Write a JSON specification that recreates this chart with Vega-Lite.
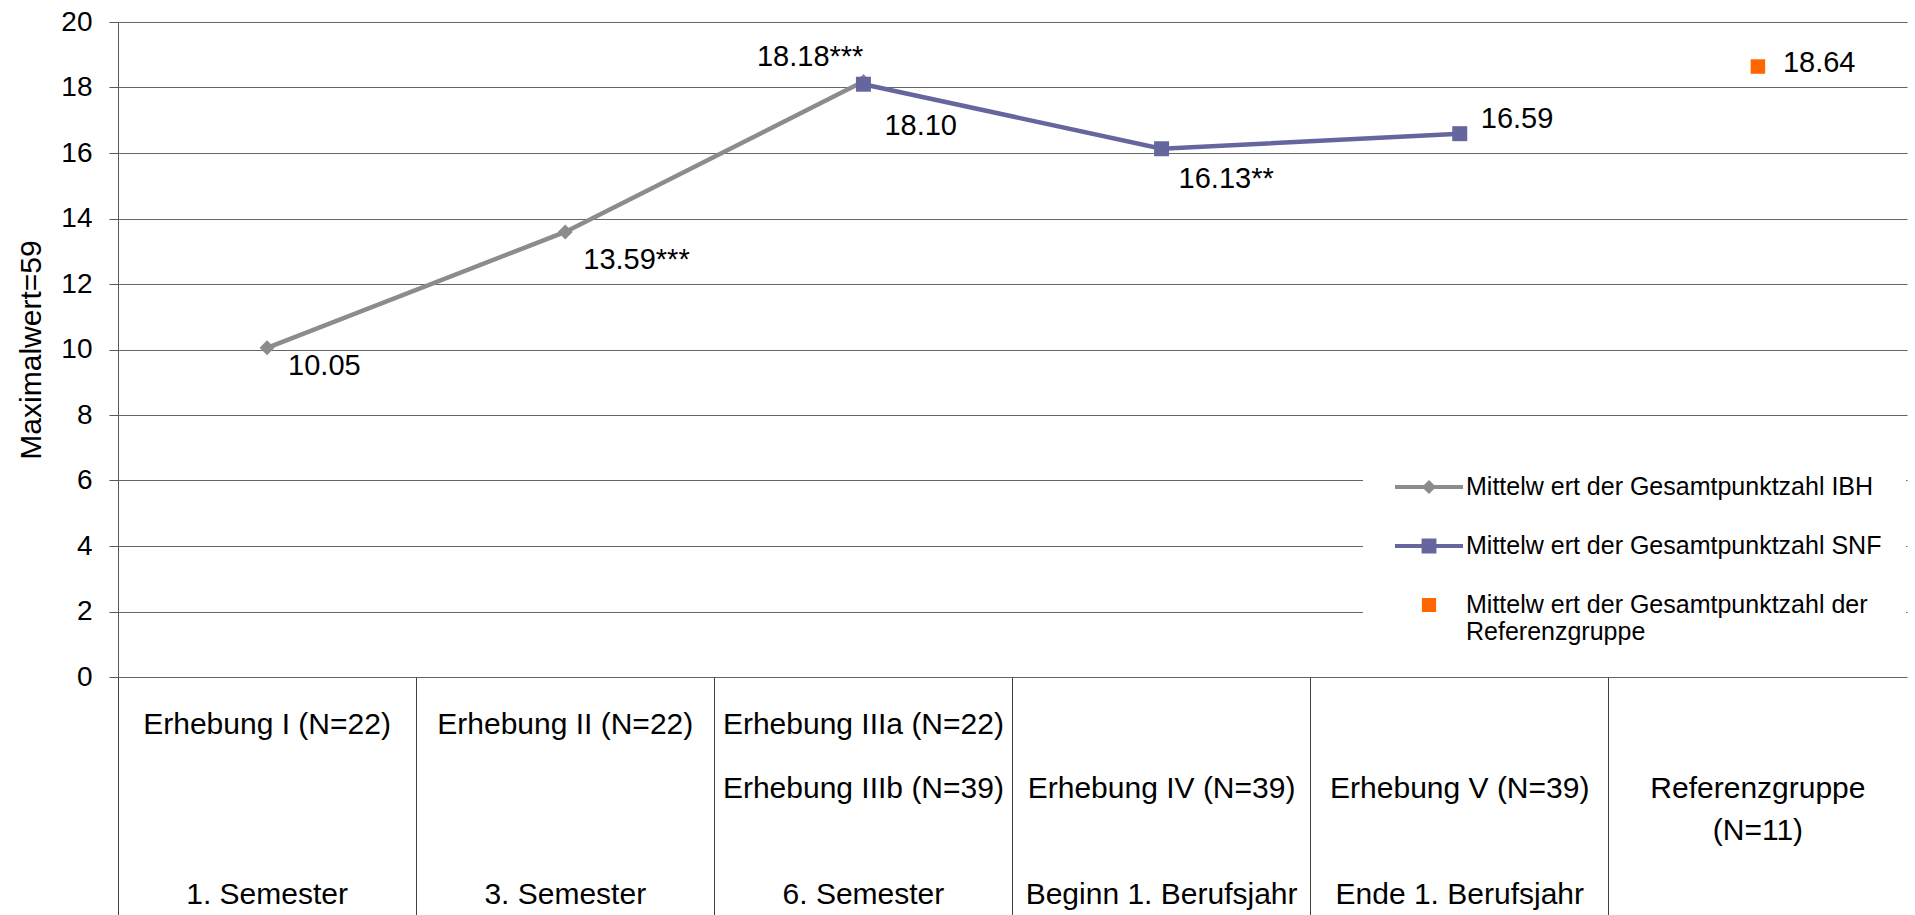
{
  "$schema": "https://vega.github.io/schema/vega-lite/v6.json",
  "width": 1789,
  "height": 655,
  "autosize": {"type": "none"},
  "padding": {"left": 118, "top": 22, "right": 8, "bottom": 238},
  "background": "white",
  "config": {
    "view": {"stroke": null},
    "font": "Liberation Sans",
    "axisX": {
      "title": null,
      "orient": "bottom",
      "domain": false,
      "grid": false,
      "labelAngle": 0,
      "labelAlign": "center",
      "labelBaseline": "alphabetic",
      "labelFontSize": 30,
      "labelColor": "black",
      "labelLimit": 400,
      "labelOverlap": false,
      "labelFlush": false
    },
    "legend": {
      "title": null,
      "orient": "none",
      "legendX": 1249,
      "legendY": 426,
      "direction": "vertical",
      "fillColor": "white",
      "strokeColor": "white",
      "strokeWidth": 8,
      "padding": 20,
      "rowPadding": 0,
      "gridAlign": "all",
      "symbolOffset": 23,
      "labelOffset": 18,
      "labelFontSize": 25,
      "labelColor": "black",
      "labelLimit": 700,
      "labelBaseline": "middle",
      "symbolSize": 1156,
      "symbolStrokeWidth": 4,
      "symbolOpacity": 1
    }
  },
  "resolve": {"axis": {"x": "independent"}},
  "data": {
    "values": [
      {"cat": "I", "series": "Mittelw ert der Gesamtpunktzahl IBH", "value": 10.05, "label": "10.05"},
      {"cat": "II", "series": "Mittelw ert der Gesamtpunktzahl IBH", "value": 13.59, "label": "13.59***"},
      {"cat": "III", "series": "Mittelw ert der Gesamtpunktzahl IBH", "value": 18.18, "label": "18.18***"},
      {"cat": "III", "series": "Mittelw ert der Gesamtpunktzahl SNF", "value": 18.10, "label": "18.10"},
      {"cat": "IV", "series": "Mittelw ert der Gesamtpunktzahl SNF", "value": 16.13, "label": "16.13**"},
      {"cat": "V", "series": "Mittelw ert der Gesamtpunktzahl SNF", "value": 16.59, "label": "16.59"},
      {"cat": "Ref", "series": "Mittelw ert der Gesamtpunktzahl der Referenzgruppe", "value": 18.64, "label": "18.64"}
    ]
  },
  "encoding": {
    "y": {
      "field": "value",
      "type": "quantitative",
      "scale": {"domain": [0, 20], "nice": false},
      "axis": {
        "title": "Maximalwert=59",
        "titleFontSize": 30,
        "titleFontWeight": "normal",
        "titleColor": "black",
        "titlePadding": 14,
        "values": [0, 2, 4, 6, 8, 10, 12, 14, 16, 18, 20],
        "grid": true,
        "gridColor": "#666666",
        "gridWidth": 1,
        "domain": true,
        "domainColor": "#595959",
        "domainWidth": 1,
        "ticks": true,
        "tickSize": 9,
        "tickColor": "#595959",
        "labelFontSize": 28,
        "labelColor": "black",
        "labelPadding": 17
      }
    }
  },
  "layer": [
    {
      "transform": [{"filter": "datum.series == 'Mittelw ert der Gesamtpunktzahl IBH'"}],
      "mark": {"type": "line", "strokeWidth": 4.5, "color": "#8C8C8C"},
      "encoding": {
        "x": {
          "field": "cat", "type": "nominal", "sort": ["I", "II", "III", "IV", "V", "Ref"],
          "scale": {"type": "band", "domain": ["I", "II", "III", "IV", "V", "Ref"], "paddingInner": 0, "paddingOuter": 0},
          "axis": {"orient": "bottom", "labels": false, "ticks": true, "bandPosition": 0, "tickSize": 238, "tickColor": "#404040", "tickWidth": 1}
        }
      }
    },
    {
      "transform": [{"filter": "datum.series == 'Mittelw ert der Gesamtpunktzahl SNF'"}],
      "mark": {"type": "line", "strokeWidth": 4.5, "color": "#66669E"},
      "encoding": {
        "x": {"field": "cat", "type": "nominal", "sort": ["I", "II", "III", "IV", "V", "Ref"], "axis": null}
      }
    },
    {
      "transform": [{"filter": "datum.series == 'Mittelw ert der Gesamtpunktzahl IBH'"}],
      "mark": {"type": "point", "filled": true, "opacity": 1, "shape": "diamond", "size": 225, "color": "#8C8C8C"},
      "encoding": {
        "x": {
          "field": "cat", "type": "nominal", "sort": ["I", "II", "III", "IV", "V", "Ref"],
          "axis": {
            "orient": "bottom", "ticks": false, "labelPadding": 56,
            "labelExpr": "datum.value == 'I' ? 'Erhebung I (N=22)' : datum.value == 'II' ? 'Erhebung II (N=22)' : datum.value == 'III' ? 'Erhebung IIIa (N=22)' : ''"
          }
        }
      }
    },
    {
      "transform": [{"filter": "datum.series == 'Mittelw ert der Gesamtpunktzahl SNF'"}],
      "mark": {"type": "point", "filled": true, "opacity": 1, "shape": "square", "size": 225, "color": "#66669E"},
      "encoding": {
        "x": {
          "field": "cat", "type": "nominal", "sort": ["I", "II", "III", "IV", "V", "Ref"],
          "axis": {
            "orient": "bottom", "ticks": false, "labelPadding": 120, "labelLineHeight": 42,
            "labelExpr": "datum.value == 'III' ? 'Erhebung IIIb (N=39)' : datum.value == 'IV' ? 'Erhebung IV (N=39)' : datum.value == 'V' ? 'Erhebung V (N=39)' : datum.value == 'Ref' ? ['Referenzgruppe', '(N=11)'] : ''"
          }
        }
      }
    },
    {
      "transform": [{"filter": "datum.series == 'Mittelw ert der Gesamtpunktzahl der Referenzgruppe'"}],
      "mark": {"type": "point", "filled": true, "opacity": 1, "shape": "square", "size": 210, "color": "#FF6600"},
      "encoding": {
        "x": {
          "field": "cat", "type": "nominal", "sort": ["I", "II", "III", "IV", "V", "Ref"],
          "axis": {
            "orient": "bottom", "ticks": false, "labelPadding": 226,
            "labelExpr": "datum.value == 'I' ? '1. Semester' : datum.value == 'II' ? '3. Semester' : datum.value == 'III' ? '6. Semester' : datum.value == 'IV' ? 'Beginn 1. Berufsjahr' : datum.value == 'V' ? 'Ende 1. Berufsjahr' : ''"
          }
        }
      }
    },
    {
      "transform": [{"filter": "datum.value < 0"}],
      "mark": {"type": "point", "filled": true, "opacity": 1, "strokeWidth": 4},
      "encoding": {
        "x": {"field": "cat", "type": "nominal", "axis": null},
        "color": {
          "field": "series",
          "type": "nominal",
          "scale": {
            "domain": ["Mittelw ert der Gesamtpunktzahl IBH", "Mittelw ert der Gesamtpunktzahl SNF", "Mittelw ert der Gesamtpunktzahl der Referenzgruppe"],
            "range": ["#8C8C8C", "#66669E", "#FF6600"]
          },
          "legend": {
            "labelExpr": "datum.label == 'Mittelw ert der Gesamtpunktzahl der Referenzgruppe' ? ['Mittelw ert der Gesamtpunktzahl der', 'Referenzgruppe'] : datum.label"
          }
        },
        "stroke": {
          "field": "series",
          "type": "nominal",
          "scale": {
            "domain": ["Mittelw ert der Gesamtpunktzahl IBH", "Mittelw ert der Gesamtpunktzahl SNF", "Mittelw ert der Gesamtpunktzahl der Referenzgruppe"],
            "range": ["#8C8C8C", "#66669E", "#FF6600"]
          },
          "legend": {
            "labelExpr": "datum.label == 'Mittelw ert der Gesamtpunktzahl der Referenzgruppe' ? ['Mittelw ert der Gesamtpunktzahl der', 'Referenzgruppe'] : datum.label"
          }
        },
        "shape": {
          "field": "series",
          "type": "nominal",
          "scale": {
            "domain": ["Mittelw ert der Gesamtpunktzahl IBH", "Mittelw ert der Gesamtpunktzahl SNF", "Mittelw ert der Gesamtpunktzahl der Referenzgruppe"],
            "range": ["M-2,0L2,0M0,-0.25L0.25,0L0,0.25L-0.25,0Z", "M-2,0L2,0M-0.32,-0.32L0.32,-0.32L0.32,0.32L-0.32,0.32Z", "M-0.3,-0.3L0.3,-0.3L0.3,0.3L-0.3,0.3Z"]
          },
          "legend": {
            "labelExpr": "datum.label == 'Mittelw ert der Gesamtpunktzahl der Referenzgruppe' ? ['Mittelw ert der Gesamtpunktzahl der', 'Referenzgruppe'] : datum.label"
          }
        }
      }
    },
    {
      "transform": [{"filter": "datum.label == '10.05'"}],
      "mark": {"type": "text", "align": "left", "baseline": "middle", "dx": 21, "dy": 18, "fontSize": 29, "color": "black"},
      "encoding": {"x": {"field": "cat", "type": "nominal", "axis": null}, "text": {"field": "label"}}
    },
    {
      "transform": [{"filter": "datum.label == '13.59***'"}],
      "mark": {"type": "text", "align": "left", "baseline": "middle", "dx": 18, "dy": 28, "fontSize": 29, "color": "black"},
      "encoding": {"x": {"field": "cat", "type": "nominal", "axis": null}, "text": {"field": "label"}}
    },
    {
      "transform": [{"filter": "datum.label == '18.18***'"}],
      "mark": {"type": "text", "align": "right", "baseline": "middle", "dx": 0, "dy": -25, "fontSize": 29, "color": "black"},
      "encoding": {"x": {"field": "cat", "type": "nominal", "axis": null}, "text": {"field": "label"}}
    },
    {
      "transform": [{"filter": "datum.label == '18.10'"}],
      "mark": {"type": "text", "align": "left", "baseline": "middle", "dx": 21, "dy": 42, "fontSize": 29, "color": "black"},
      "encoding": {"x": {"field": "cat", "type": "nominal", "axis": null}, "text": {"field": "label"}}
    },
    {
      "transform": [{"filter": "datum.label == '16.13**'"}],
      "mark": {"type": "text", "align": "left", "baseline": "middle", "dx": 17, "dy": 30, "fontSize": 29, "color": "black"},
      "encoding": {"x": {"field": "cat", "type": "nominal", "axis": null}, "text": {"field": "label"}}
    },
    {
      "transform": [{"filter": "datum.label == '16.59'"}],
      "mark": {"type": "text", "align": "left", "baseline": "middle", "dx": 21, "dy": -15, "fontSize": 29, "color": "black"},
      "encoding": {"x": {"field": "cat", "type": "nominal", "axis": null}, "text": {"field": "label"}}
    },
    {
      "transform": [{"filter": "datum.label == '18.64'"}],
      "mark": {"type": "text", "align": "left", "baseline": "middle", "dx": 25, "dy": -4, "fontSize": 29, "color": "black"},
      "encoding": {"x": {"field": "cat", "type": "nominal", "axis": null}, "text": {"field": "label"}}
    }
  ]
}
